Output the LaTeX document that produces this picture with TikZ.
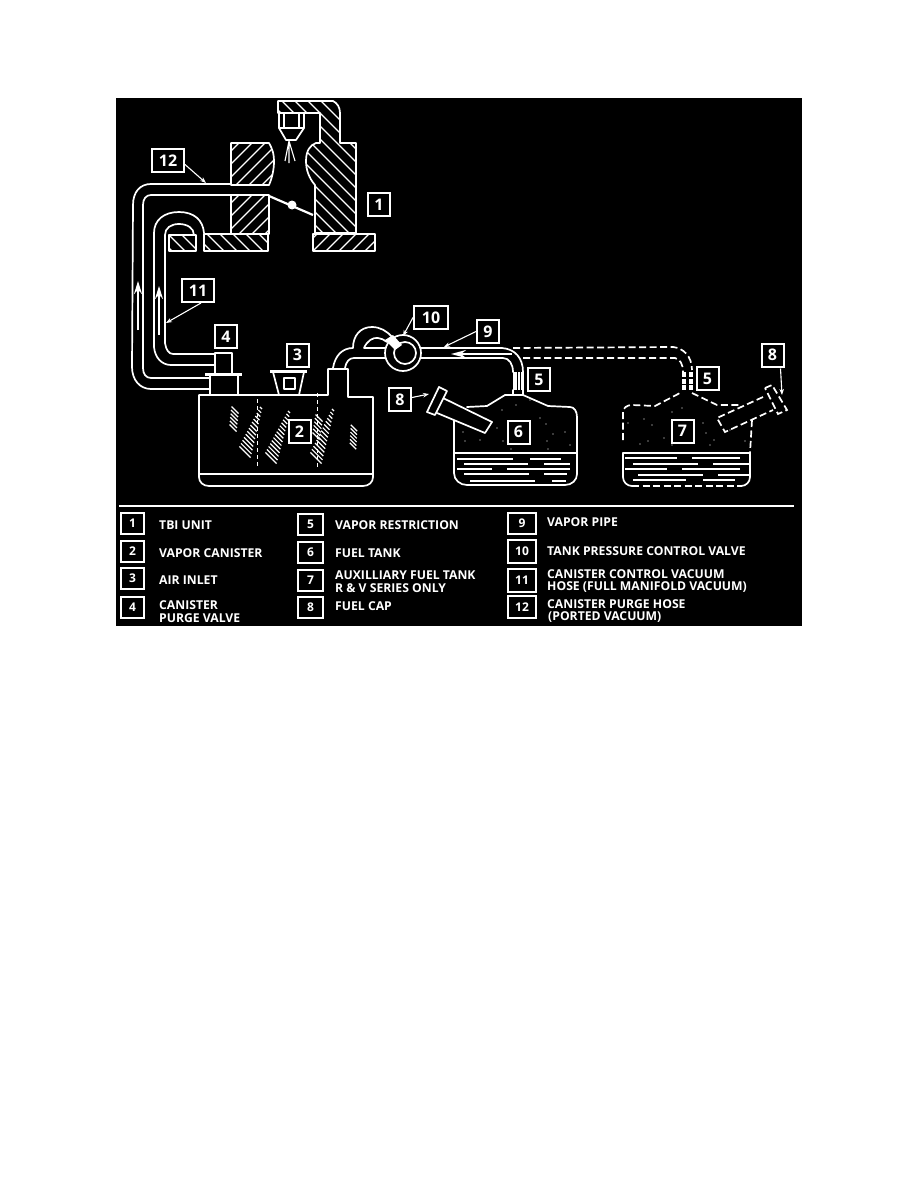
\documentclass[tikz,border=0pt]{standalone}
\usepackage{fontspec}
\setmainfont{Open Sans}
\tikzset{
 ln/.style={draw=white,line width=1.7pt,line join=round,line cap=round},
 thin/.style={draw=white,line width=1.1pt},
 dsh/.style={draw=white,line width=1.7pt,dash pattern=on 7pt off 3.5pt},
 numbox/.style={draw=white,fill=black,line width=2pt,text=white,font=\bfseries\fontsize{16}{16}\selectfont,inner sep=0pt,minimum width=22pt,minimum height=23pt},
 lgbox/.style={numbox,minimum width=23pt,minimum height=21pt,font=\bfseries\fontsize{12}{12}\selectfont},
 lgtext/.style={text=white,anchor=west,inner sep=0pt,font=\bfseries\fontsize{12.2}{12.2}\selectfont},
 lead/.style={draw=white,line width=1.1pt,-{Stealth[length=6pt,width=4.5pt]}},
 flow/.style={draw=white,line width=1.8pt,-{Stealth[length=13pt,width=8pt]}}
}
\usetikzlibrary{arrows.meta}
\newcommand{\hatchfwd}[1]{\begin{scope}\clip #1;\foreach \c in {200,213,...,800}{\draw[white,line width=1.3pt] (\c,0)--(\c-400,400);}\end{scope}}
\newcommand{\hatchbck}[1]{\begin{scope}\clip #1;\foreach \c in {-300,-287,...,300}{\draw[white,line width=1.3pt] (\c,0)--(\c+400,400);}\end{scope}}
% band of short strokes: x1 y1 x2 y2 len1 len2
\newcommand{\hband}[7]{\foreach \t in {0,...,#7}{
 \pgfmathsetmacro\tt{\t/#7}
 \pgfmathsetmacro\px{#1+(#3-#1)*\tt}
 \pgfmathsetmacro\py{#2+(#4-#2)*\tt}
 \pgfmathsetmacro\ll{0.35*(#5+(#6-#5)*\tt)}
 \draw[white,line width=1.2pt] (\px-\ll,\py-\ll)--(\px+\ll,\py+\ll);}}
\newcommand{\dotsat}[1]{\foreach \a/\b in {#1}{\fill[white] (\a,\b) circle (0.6pt);}}
\begin{document}
\begin{tikzpicture}[x=1pt,y=-1pt]
\useasboundingbox (0,0) rectangle (918,1188);
\fill[white] (0,0) rectangle (918,1188);
\fill[black] (116,98) rectangle (802,626);
% ---- TBI body
\def\pbody{(278,101) -- (333,101) .. controls (337,103) and (340,107) .. (340,113) -- (340,143) -- (356,143) -- (356,233) -- (315,233) -- (315,185) .. controls (309,178) and (306,170) .. (306,161) .. controls (306,151) and (310,145) .. (316,143) -- (320,143) -- (320,113) -- (278,113) -- cycle}
\hatchbck{\pbody}
\draw[ln] \pbody;
\def\pupa{(231,143) -- (269,143) .. controls (273,150) and (274,155) .. (274,161) .. controls (274,170) and (272,178) .. (269,185) -- (231,185) -- cycle}
\hatchfwd{\pupa}
\draw[ln] \pupa;
\def\plowa{(231,195) -- (269,195) -- (269,234) -- (231,234) -- cycle}
\hatchfwd{\plowa}
\draw[ln] \plowa;
\def\pbl{(204,234) rectangle (268,251)}
\hatchbck{\pbl}
\draw[ln] \pbl;
\def\pbr{(313,234) rectangle (375,251)}
\hatchfwd{\pbr}
\draw[ln] \pbr;
\def\psm{(169,235) rectangle (196,251)}
\hatchbck{\psm}
\draw[ln] \psm;
% injector
\draw[ln,fill=black] (279,113) rectangle (304,128);
\draw[ln] (284,114) -- (284,127) (299,114) -- (299,127);
\draw[ln] (279,128) -- (286,140) -- (296,140) -- (304,128);
\draw[thin] (289,141) -- (285,161) (289,141) -- (289,163) (289,141) -- (295,161);
% throttle
\draw[white,line width=2.2pt] (269,196) -- (313,215);
\fill[white] (292,205) circle (4.5pt);
% hose 12
\draw[ln] (231,184) -- (151,184) .. controls (140,184) and (133,192) .. (133,205) -- (132,367) .. controls (132,380) and (140,389) .. (151,389) -- (209,389);
\draw[ln] (231,195) -- (151,195) .. controls (146,195) and (143,199) .. (143,205) -- (143,368) .. controls (143,374) and (146,378) .. (151,378) -- (210,378);
% hose 11
\draw[ln] (204,233) .. controls (203,220) and (194,212) .. (179,212) .. controls (164,212) and (154,220) .. (154,233) -- (154,347) .. controls (155,358) and (162,365) .. (171,365) -- (215,365);
\draw[ln] (194,235) .. controls (194,228) and (187,224) .. (179,224) .. controls (171,224) and (165,228) .. (165,235) -- (165,343) .. controls (166,350) and (169,354) .. (173,354) -- (215,354);
% flow arrows on hoses
\coordinate (a12s) at (138,330); \coordinate (a12e) at (138,281);
\coordinate (a11s) at (159,335); \coordinate (a11e) at (159,286);
\draw[flow] (a12s) -- (a12e);
\draw[flow] (a11s) -- (a11e);
% valve 4
\draw[ln] (215,373) -- (215,353) -- (232,353) -- (232,373);
\draw[white,line width=3pt] (205,374.5) -- (242,374.5);
\draw[ln] (210,376) -- (210,395) (238,376) -- (238,395);
% canister
\draw[ln] (199,395) -- (328,395) -- (328,369) -- (348,369) -- (348,397) -- (373,397) -- (373,477) .. controls (373,482) and (369,486) .. (363,486) -- (209,486) .. controls (203,486) and (199,482) .. (199,477) -- cycle;
\draw[ln] (200,474) -- (372,474);
\draw[white,line width=1pt,dash pattern=on 4pt off 3pt] (257,399) -- (257,467);
\draw[white,line width=1pt,dash pattern=on 4pt off 3pt] (317,393) -- (317,467);
\hband{235}{410}{233}{428}{10}{10}{5}
\hband{261}{408}{245}{452}{3}{16}{13}
\hband{289}{412}{271}{458}{3}{16}{14}
\hband{333}{410}{316}{458}{3}{16}{14}
\hband{319}{418}{316}{436}{10}{10}{5}
\hband{354}{428}{353}{446}{9}{9}{5}
% air inlet
\draw[white,line width=3pt] (270,371.5) -- (307,371.5);
\draw[ln] (273,372) -- (279,395) (304,372) -- (299,395);
\draw[ln] (284,378) rectangle (295,389);
% vapor pipe left
\draw[ln] (333,368) .. controls (335,356) and (342,348) .. (353,348) .. controls (353,336) and (360,327) .. (372,327) .. controls (380,327) and (387,331) .. (392,337);
\draw[ln] (385,348) -- (364,348) .. controls (367,341) and (373,337) .. (378,338) .. controls (381,338) and (384,340) .. (387,342);
\draw[ln] (345,368) .. controls (346,362) and (349,358) .. (354,358) -- (385,358);
% control valve
\draw[ln] (403,353) circle (18pt);
\draw[ln] (405,353) circle (11pt);
\fill[white] (385,340) -- (393,335) -- (402,345) -- (395,350) -- cycle;
% vapor pipe right
\draw[ln] (421,348) -- (502,348) .. controls (515,349) and (523,358) .. (523,372);
\draw[ln] (421,358) -- (503,358) .. controls (509,358) and (513,364) .. (513,372);
\coordinate (a9s) at (512,354); \coordinate (a9e) at (451,354);
\draw[draw=white,line width=1.8pt,-{Stealth[length=15pt,width=8pt]}] (a9s) -- (a9e);
% restriction 5
\fill[white] (512.5,372) rectangle (516.5,390);
\fill[white] (518,372) rectangle (519.5,390);
\fill[white] (521,372) rectangle (524,390);
\draw[ln] (513,390) -- (513,395) (523,390) -- (523,395);
% tank 6
\draw[ln] (454,418) -- (454,473) .. controls (454,480) and (460,485) .. (467,485) -- (565,485) .. controls (572,485) and (577,480) .. (577,474) -- (577,417) .. controls (577,411) and (574,407) .. (570,407) -- (548,406) -- (523,395) -- (517,395) (517,395) -- (505,395) -- (487,406) -- (467,407);
\draw[ln] (454,453) -- (577,453);
\foreach \y/\a/\b/\c/\d in {459/457/513/530/561,464/464/528/544/570,469/457/492/507/570,474/464/529/544/567,481/470/535/552/566}{\draw[thin] (\a,\y)--(\b,\y) (\c,\y)--(\d,\y);}
% cap 6
\draw[ln,fill=black] (443,398) -- (492,422) -- (485,433) -- (437,413);
\draw[ln,fill=black] (439,387) -- (447,391) -- (435,415) -- (427,412) -- cycle;
\dotsat{463/432,480/440,465/441,503/441,497/428,530/400,516/405,540/418,502/410,547/441,553/434,565/432,570/445,546/424,511/449,548/449}
% dashed vapor pipe
\draw[dsh] (513,348) -- (673,347) .. controls (683,348) and (692,356) .. (692,370);
\draw[dsh] (523,358) -- (675,358) .. controls (680,359) and (683,364) .. (683,372);
% restriction 5 dashed
\foreach \x/\w in {682/4,689/4}{\foreach \y in {372,378.5,385}{\fill[white] (\x,\y) rectangle ++(\w,5);}}
% tank 7
\draw[dsh] (623,440) -- (623,412) .. controls (623,408) and (627,405) .. (632,405) -- (655,406) -- (680,393) (692,393) -- (717,405) -- (740,405);
\draw[dsh] (752,420) -- (750,453);
\draw[dsh] (632,486) -- (742,486);
\draw[ln] (623,453) -- (623,477) .. controls (623,482) and (627,486) .. (632,486);
\draw[ln] (750,453) -- (750,477) .. controls (750,482) and (746,486) .. (741,486);
\draw[ln] (623,453) -- (750,453);
\foreach \y/\a/\b/\c/\d in {458/625/677/692/740,464/633/698/713/750,469/625/667/682/740,475/638/703/718/750,480/633/686/703/735}{\draw[thin] (\a,\y)--(\b,\y) (\c,\y)--(\d,\y);}
\dotsat{644/419,652/425,628/423,688/430,703/423,706/433,714/440,730/430,745/441,640/444,648/441,664/438,672/445,693/442,710/445,682/408,672/412}
% cap 7
\draw[dsh] (763,397) -- (717,418) -- (725,432) -- (773,410);
\draw[dsh] (765,388) -- (772,385) -- (787,410) -- (778,414) -- cycle;
% legend rule
\draw[white,line width=2pt] (119,506) -- (794,506);
% number boxes
\node[numbox,minimum width=32pt] (n12) at (168,160.5) {12};
\node[numbox] (n1) at (379,204.5) {1};
\node[numbox,minimum width=32pt] (n11) at (198,290.5) {11};
\node[numbox] (n4) at (226,336.5) {4};
\node[numbox] (n3) at (297.5,355) {3};
\node[numbox] (n2) at (299.5,431.5) {2};
\node[numbox,minimum width=34pt] (n10) at (431,317.5) {10};
\node[numbox] (n9) at (488,331.5) {9};
\node[numbox] (n5) at (539,379.5) {5};
\node[numbox] (n8) at (400,399.5) {8};
\node[numbox] (n6) at (518.5,432) {6};
\node[numbox] (n5b) at (707.5,378.5) {5};
\node[numbox] (n7) at (682.5,431) {7};
\node[numbox] (n8b) at (772.5,355) {8};
% leaders
\coordinate (t12) at (206,183);
\coordinate (t11) at (166,323);
\coordinate (t10) at (403,336);
\coordinate (t9) at (444,347);
\coordinate (t8) at (429,394);
\coordinate (t8b) at (782,395);
\draw[lead] (n12.east) ++(0,4) -- (t12);
\draw[lead] (n11.south) ++(3,0) -- (t11);
\draw[lead] (n10.west) -- (t10);
\draw[lead] (n9.west) -- (t9);
\draw[lead] (n8.east) ++(0,-2) -- (t8);
\draw[lead] (n8b.south) ++(8,1) -- (t8b);
% legend
\node[lgbox] (l1) at (132.5,523) {1};
\node[lgbox] (l2) at (132.5,551.5) {2};
\node[lgbox] (l3) at (132.5,578.5) {3};
\node[lgbox] (l4) at (132.5,607) {4};
\node[lgbox,minimum width=25pt] (l5) at (310.5,524.5) {5};
\node[lgbox,minimum width=25pt] (l6) at (310.5,552.5) {6};
\node[lgbox,minimum width=25pt] (l7) at (310.5,580.5) {7};
\node[lgbox,minimum width=25pt] (l8) at (310.5,607.5) {8};
\node[lgbox,minimum width=28pt] (l9) at (522,523.5) {9};
\node[lgbox,minimum width=28pt,minimum height=23pt] (l10) at (522,551.5) {10};
\node[lgbox,minimum width=28pt,minimum height=23pt] (l11) at (522,580.5) {11};
\node[lgbox,minimum width=28pt,minimum height=22pt] (l12) at (522,607) {12};
\node[lgtext] (x1) at (159,525) {TBI UNIT};
\node[lgtext] (x2) at (159,553) {VAPOR CANISTER};
\node[lgtext] (x3) at (159,580) {AIR INLET};
\node[lgtext] (x4a) at (159,605.5) {CANISTER};
\node[lgtext] (x4b) at (159,618) {PURGE VALVE};
\node[lgtext] (x5) at (335,525) {VAPOR RESTRICTION};
\node[lgtext] (x6) at (335,553) {FUEL TANK};
\node[lgtext] (x7a) at (335,575.5) {AUXILLIARY FUEL TANK};
\node[lgtext] (x7b) at (335,588) {R \& V SERIES ONLY};
\node[lgtext] (x8) at (335,606) {FUEL CAP};
\node[lgtext] (x9) at (547,522) {VAPOR PIPE};
\node[lgtext] (x10) at (547,551) {TANK PRESSURE CONTROL VALVE};
\node[lgtext] (x11a) at (547,574.5) {CANISTER CONTROL VACUUM};
\node[lgtext] (x11b) at (547,587) {HOSE (FULL MANIFOLD VACUUM)};
\node[lgtext] (x12a) at (547,604) {CANISTER PURGE HOSE};
\node[lgtext] (x12b) at (548,617) {(PORTED VACUUM)};
\end{tikzpicture}
\end{document}
